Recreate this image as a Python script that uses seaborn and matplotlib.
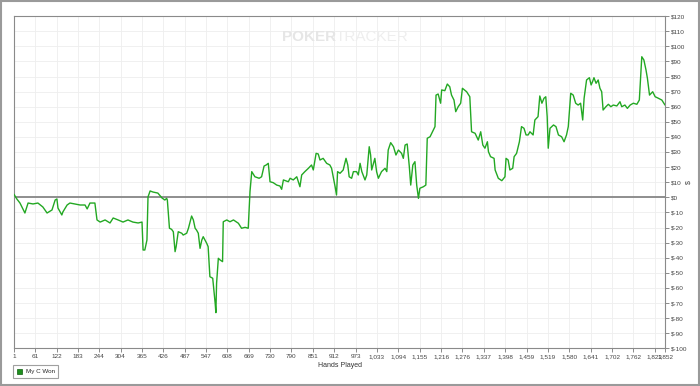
import matplotlib
matplotlib.use("Agg")
import matplotlib.pyplot as plt
import seaborn as sns
from matplotlib.patches import Rectangle, Patch

# ---- data ----
hands = [1, 9, 18, 32, 41, 55, 69, 83, 95, 109, 118, 123, 126, 137, 140, 152, 160, 174, 189, 203,
         209, 217, 226, 231, 237, 246, 260, 274, 283, 297, 311, 325, 339, 354, 365, 368, 373, 379, 382, 388,
         396, 410, 422, 430, 435, 437, 443, 449, 454, 459, 462, 468, 478, 482, 492, 497, 506, 511, 516, 520,
         525, 530, 535, 539, 544, 549, 553, 558, 566, 573, 575, 577, 582, 587, 594, 596, 606, 615, 625, 639,
         648, 658, 667, 672, 677, 686, 698, 705, 712, 718, 724, 729, 738, 748, 757, 762, 767, 781, 786, 795,
         805, 814, 819, 828, 838, 847, 852, 860, 866, 871, 880, 890, 899, 904, 914, 918, 921, 928, 937, 945,
         950, 954, 961, 966, 975, 980, 985, 990, 999, 1004, 1011, 1015, 1018, 1027, 1032, 1037, 1046, 1056, 1061, 1065,
         1072, 1080, 1087, 1094, 1103, 1108, 1113, 1119, 1125, 1129, 1135, 1141, 1146, 1151, 1155, 1165, 1172, 1176, 1184, 1191,
         1198, 1201, 1207, 1214, 1217, 1226, 1233, 1240, 1245, 1252, 1257, 1264, 1271, 1276, 1288, 1297, 1302, 1312, 1321, 1328,
         1334, 1340, 1347, 1350, 1356, 1366, 1369, 1378, 1388, 1397, 1400, 1406, 1411, 1419, 1423, 1430, 1438, 1444, 1451, 1457,
         1463, 1468, 1477, 1482, 1491, 1496, 1502, 1508, 1513, 1517, 1520, 1525, 1535, 1542, 1549, 1558, 1565, 1572, 1577, 1584,
         1591, 1598, 1605, 1612, 1618, 1622, 1629, 1637, 1642, 1646, 1650, 1656, 1662, 1667, 1672, 1676, 1684, 1691, 1698, 1705,
         1715, 1724, 1729, 1738, 1745, 1753, 1762, 1772, 1779, 1786, 1792, 1798, 1802, 1808, 1817, 1824, 1833, 1843, 1852]
won = [2.0, -1.1, -3.8, -10.4, -3.8, -4.4, -3.8, -6.4, -10.4, -8.4, -1.8, -1.1, -7.1, -11.7, -9.7, -5.1, -3.8, -4.4, -5.1, -5.1,
       -7.7, -3.8, -3.8, -3.8, -15.0, -16.4, -15.0, -17.0, -13.7, -15.0, -16.4, -15.0, -16.4, -17.0, -16.4, -34.9, -34.9, -28.3, 0.2, 4.2,
       3.5, 2.8, -0.5, -1.8, -0.7, -1.8, -20.5, -21.2, -22.8, -36.0, -32.7, -22.8, -23.8, -25.0, -23.8, -20.5, -12.4, -15.0, -20.5, -21.7,
       -23.8, -33.8, -28.3, -26.1, -28.3, -30.5, -32.7, -52.6, -53.6, -70.2, -76.4, -57.0, -40.4, -41.5, -42.6, -16.2, -15.0, -16.2, -15.0, -17.2,
       -20.5, -19.9, -20.5, 3.7, 17.0, 13.6, 12.6, 13.6, 20.7, 21.4, 22.5, 10.3, 9.7, 8.1, 7.5, 5.3, 11.5, 10.3, 12.6, 11.5,
       13.6, 7.0, 14.8, 17.0, 19.2, 21.4, 18.1, 29.1, 28.7, 24.7, 25.8, 22.5, 21.4, 19.2, 7.0, 1.5, 17.0, 15.9, 18.1, 25.8,
       21.4, 13.6, 12.6, 17.0, 17.0, 14.8, 22.5, 17.0, 11.5, 14.8, 33.5, 28.0, 18.1, 25.8, 17.0, 12.6, 17.0, 19.2, 17.0, 31.3,
       36.2, 33.5, 28.0, 31.3, 29.1, 25.8, 34.6, 35.3, 20.3, 8.1, 21.4, 23.6, 8.1, -0.7, 6.0, 7.0, 8.1, 39.1, 40.1, 43.4,
       46.8, 67.7, 68.4, 62.3, 71.1, 70.6, 75.0, 73.2, 67.7, 64.4, 56.7, 60.0, 62.3, 72.2, 69.9, 66.6, 43.4, 42.4, 37.9, 43.4,
       34.6, 32.5, 36.8, 30.2, 26.9, 25.8, 18.1, 12.6, 11.0, 13.6, 25.8, 24.7, 18.1, 19.2, 26.9, 29.1, 36.8, 46.8, 45.7, 41.3,
       41.3, 43.4, 41.3, 51.2, 53.4, 67.1, 62.3, 65.6, 66.6, 53.4, 32.5, 45.7, 47.9, 46.8, 41.3, 40.1, 36.8, 41.3, 46.8, 68.9,
       67.7, 62.3, 61.1, 62.3, 51.2, 65.6, 77.7, 79.2, 74.4, 76.6, 79.2, 75.5, 77.7, 72.2, 69.9, 57.8, 60.0, 61.6, 60.0, 61.1,
       60.5, 63.3, 60.0, 61.1, 58.9, 61.1, 62.3, 61.6, 64.4, 93.1, 90.9, 84.3, 78.8, 67.7, 69.9, 66.6, 65.6, 64.4, 61.1]
x_ticks = [1, 61, 122, 183, 244, 304, 365, 426, 487, 547, 608, 669, 730, 790, 851, 912, 973, 1033,
           1094, 1155, 1216, 1276, 1337, 1398, 1459, 1519, 1580, 1641, 1702, 1762, 1823, 1852]
y_ticks = list(range(-100, 121, 10))
series_name = "My C Won"
x_title = "Hands Played"
y_title = "$"

# ---- style ----
sns.set_theme(style="white")
plt.rcParams["font.family"] = ["Liberation Sans", "DejaVu Sans"]

fig = plt.figure(figsize=(7, 3.86), dpi=100)
ax = fig.add_axes([14 / 700, 1 - 348.3 / 386, 651 / 700, 332.2 / 386])

line_color = "#23a823"
sns.lineplot(x=hands, y=won, ax=ax, color=line_color, lw=1.0, sort=False,
             estimator=None, zorder=3)
ax.axhline(0, color="#8e8e8e", lw=1.4, zorder=2)

ax.set_xlim(1, 1852)
ax.set_ylim(-100, 120)
ax.set_xticks(x_ticks)
ax.set_xticklabels([f"{t:,}" for t in x_ticks])
ax.set_yticks(y_ticks)
ax.set_yticklabels([f"${t}" for t in y_ticks])
ax.yaxis.tick_right()
ax.set_ylabel("")
ax.set_xlabel(x_title, fontsize=5, color="#333333", labelpad=2)

ax.tick_params(axis="both", which="major", length=3, width=0.6, color="#777777",
               labelsize=4.6, labelcolor="#444444", pad=1.0,
               bottom=True, right=True, left=False, top=False)
ax.grid(True, color="#eeeeee", lw=0.6, zorder=0)
for side in ["left", "bottom", "top", "right"]:
    ax.spines[side].set_visible(True)
    ax.spines[side].set_color("#8a8a8a")
    ax.spines[side].set_linewidth(0.8)

# right axis title
fig.text(689 / 700, 1 - 182 / 386, y_title, rotation=90, ha="center", va="center",
         fontsize=5, color="#444444")

# watermark
fig.text(336 / 700, 1 - 37 / 386, "POKER", ha="right", va="center", fontsize=11,
         fontweight="bold", color="#e6e6e6", zorder=1)
fig.text(336 / 700, 1 - 37 / 386, "TRACKER", ha="left", va="center", fontsize=11,
         color="#eeeeee", zorder=1)

# legend
handle = Patch(facecolor="#1e8f1e", edgecolor="#0d5e0d", lw=0.5)
leg = ax.legend([handle], [series_name], loc="lower left",
                bbox_to_anchor=(13 / 700, 8 / 386), bbox_transform=fig.transFigure,
                fontsize=4.5, frameon=True, fancybox=False, edgecolor="#888888",
                handlelength=0.9, handleheight=0.9, handletextpad=0.5,
                borderpad=0.6, borderaxespad=0)
leg.get_frame().set_linewidth(0.8)

# outer border
fig.patches.append(Rectangle((0.0015, 0.0025), 0.997, 0.995, transform=fig.transFigure,
                             fill=False, edgecolor="#9a9a9a", lw=1.5))

fig.savefig("out.png", dpi=100)
